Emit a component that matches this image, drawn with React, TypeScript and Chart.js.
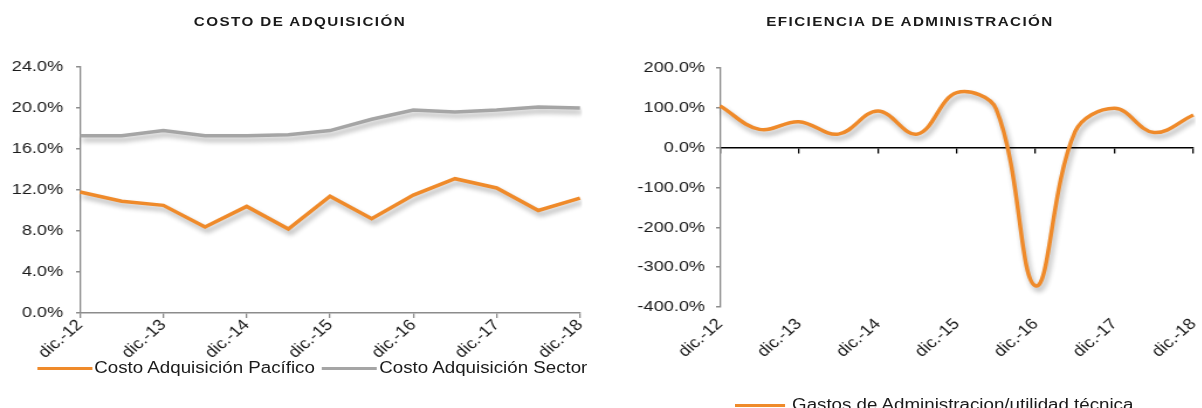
import React, { useEffect, useRef } from 'react';
import { Chart, registerables } from 'chart.js';

Chart.register(...registerables);

// ---------- data ----------
const categories = [
  'dic.-12', 'jun.-13', 'dic.-13', 'jun.-14', 'dic.-14', 'jun.-15', 'dic.-15',
  'jun.-16', 'dic.-16', 'jun.-17', 'dic.-17', 'jun.-18', 'dic.-18',
];

const costoPacifico = [11.8, 10.9, 10.5, 8.4, 10.4, 8.2, 11.4, 9.2, 11.5, 13.1, 12.2, 10.0, 11.2];
const costoSector = [17.3, 17.3, 17.8, 17.3, 17.3, 17.4, 17.8, 18.9, 19.8, 19.6, 19.8, 20.1, 20.0];
const gastosAdministracion = [105, 46, 65, 34, 92, 34, 138, 97, -347, 40, 99, 38, 82];

const leftTitle = 'COSTO DE ADQUISICIÓN';
const rightTitle = 'EFICIENCIA DE ADMINISTRACIÓN';
const labelPacifico = 'Costo Adquisición Pacífico';
const labelSector = 'Costo Adquisición Sector';
const labelGastos = 'Gastos de Administracion/utilidad técnica';

const leftAxisMin = 0;
const leftAxisMax = 24;
const leftAxisStep = 4;
const rightAxisMin = -400;
const rightAxisMax = 200;
const rightAxisStep = 100;

// ---------- styles / layout ----------
const STRETCH = 1.17; // the reference is horizontally stretched
const INNER_W = 1202 / STRETCH;
const LEFT_W = 513;
const RIGHT_X = 517;
const RIGHT_W = INNER_W - RIGHT_X;

const ORANGE = '#EF8A2A';
const GRAY = '#A5A5A5';
const AXIS = '#8C8C8C';
const TEXT = '#1a1a1a';
const FONT = "'Liberation Sans', Arial, sans-serif";
const TICK_FONT = { family: FONT, size: 15.5 };

const pct = (v: any) => Number(v).toFixed(1) + '%';
const everyOther = (ctx: any, color: string) => (ctx.index % 2 === 0 ? color : 'rgba(0,0,0,0)');

const shadowPlugin = {
  id: 'lineShadow',
  beforeDatasetsDraw(chart: any) {
    const ctx = chart.ctx;
    ctx.save();
    ctx.shadowColor = 'rgba(0,0,0,0.32)';
    ctx.shadowBlur = 5;
    ctx.shadowOffsetX = 2;
    ctx.shadowOffsetY = 4;
  },
  afterDatasetsDraw(chart: any) {
    chart.ctx.restore();
  },
};

const noSidePadding = (s: any) => { s.height = 60; s.paddingLeft = 0; s.paddingRight = 0; };

function LeftChart() {
  const ref = useRef<HTMLCanvasElement | null>(null);
  useEffect(() => {
    if (!ref.current) return;
    const chart = new Chart(ref.current, {
      type: 'line',
      data: {
        labels: categories,
        datasets: [
          { label: labelPacifico, data: costoPacifico, borderColor: ORANGE, backgroundColor: ORANGE, borderWidth: 3.5, pointRadius: 0, tension: 0, fill: false },
          { label: labelSector, data: costoSector, borderColor: GRAY, backgroundColor: GRAY, borderWidth: 3.5, pointRadius: 0, tension: 0, fill: false },
        ],
      },
      options: {
        animation: false,
        responsive: false,
        events: [],
        layout: { padding: { left: 0, right: LEFT_W - 495.7, top: 67, bottom: 35 } },
        plugins: { legend: { display: false }, tooltip: { enabled: false }, title: { display: false } },
        scales: {
          x: {
            type: 'category',
            offset: false,
            border: { color: AXIS, width: 1.5 },
            grid: { drawOnChartArea: false, drawTicks: true, tickLength: 5, lineWidth: 1.3, color: (c: any) => everyOther(c, AXIS) },
            ticks: {
              autoSkip: false, minRotation: 45, maxRotation: 45, padding: -2, color: TEXT, font: TICK_FONT,
              callback: (_v: any, i: number) => (i % 2 === 0 ? categories[i] : ''),
            },
            afterFit: noSidePadding,
          },
          y: {
            min: leftAxisMin, max: leftAxisMax,
            border: { color: AXIS, width: 1.3 },
            grid: { drawOnChartArea: false, drawTicks: true, tickLength: 3.4, lineWidth: 1.5, color: AXIS },
            ticks: { stepSize: leftAxisStep, padding: 11, color: TEXT, font: TICK_FONT, callback: pct },
            afterFit: (s: any) => { s.width = 68.4; },
          },
        },
      },
      plugins: [shadowPlugin],
    } as any);
    return () => chart.destroy();
  }, []);
  return <canvas ref={ref} width={LEFT_W} height={408} style={{ position: 'absolute', left: 0, top: 0, width: LEFT_W, height: 408 }} />;
}

function RightChart() {
  const ref = useRef<HTMLCanvasElement | null>(null);
  useEffect(() => {
    if (!ref.current) return;
    const chart = new Chart(ref.current, {
      type: 'line',
      data: {
        labels: categories,
        datasets: [
          { label: labelGastos, data: gastosAdministracion, borderColor: ORANGE, backgroundColor: ORANGE, borderWidth: 3.5, pointRadius: 0, tension: 0.38, fill: false },
        ],
      },
      options: {
        animation: false,
        responsive: false,
        events: [],
        layout: { padding: { left: 0, right: 7, top: 68, bottom: 41 } },
        plugins: { legend: { display: false }, tooltip: { enabled: false }, title: { display: false } },
        scales: {
          x: {
            type: 'category',
            offset: false,
            border: { display: false },
            grid: { display: false, drawOnChartArea: false, drawTicks: false },
            ticks: {
              autoSkip: false, minRotation: 45, maxRotation: 45, padding: 8, color: TEXT, font: TICK_FONT,
              callback: (_v: any, i: number) => (i % 2 === 0 ? categories[i] : ''),
            },
            afterFit: noSidePadding,
          },
          x2: {
            type: 'category',
            offset: false,
            position: { y: 0 },
            border: { color: '#000', width: 1.6 },
            grid: { drawOnChartArea: false, drawTicks: true, tickLength: 5, lineWidth: 1.3, color: (c: any) => everyOther(c, '#000') },
            ticks: { display: false, autoSkip: false },
          },
          y: {
            min: rightAxisMin, max: rightAxisMax,
            border: { color: AXIS, width: 1.3 },
            grid: { drawOnChartArea: false, drawTicks: true, tickLength: 3.4, lineWidth: 1.5, color: AXIS },
            ticks: { stepSize: rightAxisStep, padding: 9.4, color: TEXT, font: TICK_FONT, callback: pct },
            afterFit: (s: any) => { s.width = 98.4; },
          },
        },
      },
      plugins: [shadowPlugin],
    } as any);
    return () => chart.destroy();
  }, []);
  return <canvas ref={ref} width={Math.round(RIGHT_W)} height={408} style={{ position: 'absolute', left: RIGHT_X, top: 0, width: Math.round(RIGHT_W), height: 408 }} />;
}

const titleStyle: React.CSSProperties = {
  position: 'absolute', top: 14, fontFamily: FONT, fontWeight: 'bold', fontSize: 13,
  letterSpacing: '1.2px', color: TEXT, textAlign: 'center', whiteSpace: 'nowrap', width: 400,
};
const legendText: React.CSSProperties = { fontFamily: FONT, fontSize: 16, color: TEXT, whiteSpace: 'nowrap' };
const swatch = (color: string, w: number): React.CSSProperties => ({ display: 'inline-block', width: w, height: 3, background: color, marginRight: 2 });

export default function App() {
  return (
    <div style={{ position: 'absolute', left: 0, top: 0, width: 1202, height: 408, overflow: 'hidden', background: '#fff' }}>
      <div style={{ position: 'absolute', left: 0, top: 0, width: INNER_W, height: 408, transform: `scaleX(${STRETCH})`, transformOrigin: '0 0' }}>
        <div style={{ ...titleStyle, left: 256.4 - 200 }}>{leftTitle}</div>
        <div style={{ ...titleStyle, left: 777.8 - 200 }}>{rightTitle}</div>
        <LeftChart />
        <RightChart />
        <div style={{ position: 'absolute', left: 31.6, top: 358, height: 20, display: 'flex', alignItems: 'center' }}>
          <span style={swatch(ORANGE, 47)} />
          <span style={legendText}>{labelPacifico}</span>
          <span style={{ ...swatch(GRAY, 47), marginLeft: 6 }} />
          <span style={legendText}>{labelSector}</span>
        </div>
        <div style={{ position: 'absolute', left: 628, top: 395, height: 20, display: 'flex', alignItems: 'center' }}>
          <span style={swatch(ORANGE, 43)} />
          <span style={{ ...legendText, marginLeft: 4 }}>{labelGastos}</span>
        </div>
      </div>
    </div>
  );
}
